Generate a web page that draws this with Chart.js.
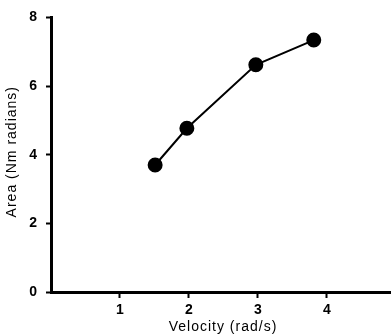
<!DOCTYPE html>
<html>
<head>
<meta charset="utf-8">
<script src="https://cdn.jsdelivr.net/npm/chart.js@4"></script>
<style>
  html, body { margin: 0; padding: 0; background: #fff; }
  #wrap { width: 391px; height: 335px; }
</style>
</head>
<body>
<div id="wrap"><canvas id="myChart"></canvas></div>
<script>
// data
var velocity = [1.51, 1.97, 2.97, 3.81];
var area = [3.70, 4.77, 6.62, 7.34];
var xTicks = [1, 2, 3, 4];
var yTicks = [0, 2, 4, 6, 8];
var xTitle = 'Velocity (rad/s)';
var yTitle = 'Area (Nm radians)';

var points = velocity.map(function (v, i) { return { x: v, y: area[i] }; });

// axis titles drawn by hand so the letter spacing can match
var titlePlugin = {
  id: 'axisTitles',
  afterDraw: function (chart) {
    var c = chart.ctx;
    var a = chart.chartArea;
    c.save();
    c.fillStyle = '#000';
    c.font = '14px "Liberation Sans"';
    c.letterSpacing = '1px';
    c.textAlign = 'center';
    c.textBaseline = 'middle';
    c.fillText(xTitle, (a.left + a.right) / 2 + 2, a.bottom + 35);
    c.translate(12, (a.top + a.bottom) / 2 - 3);
    c.rotate(-Math.PI / 2);
    c.fillText(yTitle, 0, 0);
    c.restore();
  }
};

var ctx = document.getElementById('myChart').getContext('2d');
var myChart = new Chart(ctx, {
  type: 'scatter',
  data: {
    datasets: [{
      data: points,
      showLine: true,
      borderColor: '#000',
      backgroundColor: '#000',
      borderWidth: 2,
      pointRadius: 6.5,
      pointHoverRadius: 6.5
    }]
  },
  options: {
    responsive: true,
    maintainAspectRatio: false,
    animation: false,
    layout: { autoPadding: false, padding: { top: 15, right: 0, left: 0, bottom: 0 } },
    plugins: { legend: { display: false }, tooltip: { enabled: false } },
    scales: {
      x: {
        type: 'linear',
        min: 0,
        max: 4.93,
        afterBuildTicks: function (axis) {
          axis.ticks = xTicks.map(function (v) { return { value: v }; });
        },
        afterFit: function (axis) { axis.height = 43; },
        grid: { drawOnChartArea: false, drawTicks: true, tickLength: 6, tickWidth: 2, color: '#000' },
        border: { width: 3, color: '#000' },
        ticks: { color: '#000', padding: 4, font: { family: 'Liberation Sans', size: 14, weight: 'bold' } }
      },
      y: {
        type: 'linear',
        min: 0,
        max: 8,
        afterBuildTicks: function (axis) {
          axis.ticks = yTicks.map(function (v) { return { value: v }; });
        },
        afterFit: function (axis) { axis.width = 51; },
        grid: { drawOnChartArea: false, drawTicks: true, tickLength: 5, tickWidth: 2, color: '#000' },
        border: { width: 3, color: '#000' },
        ticks: { color: '#000', padding: 9, font: { family: 'Liberation Sans', size: 14, weight: 'bold' } }
      }
    }
  },
  plugins: [titlePlugin]
});
</script>
</body>
</html>
